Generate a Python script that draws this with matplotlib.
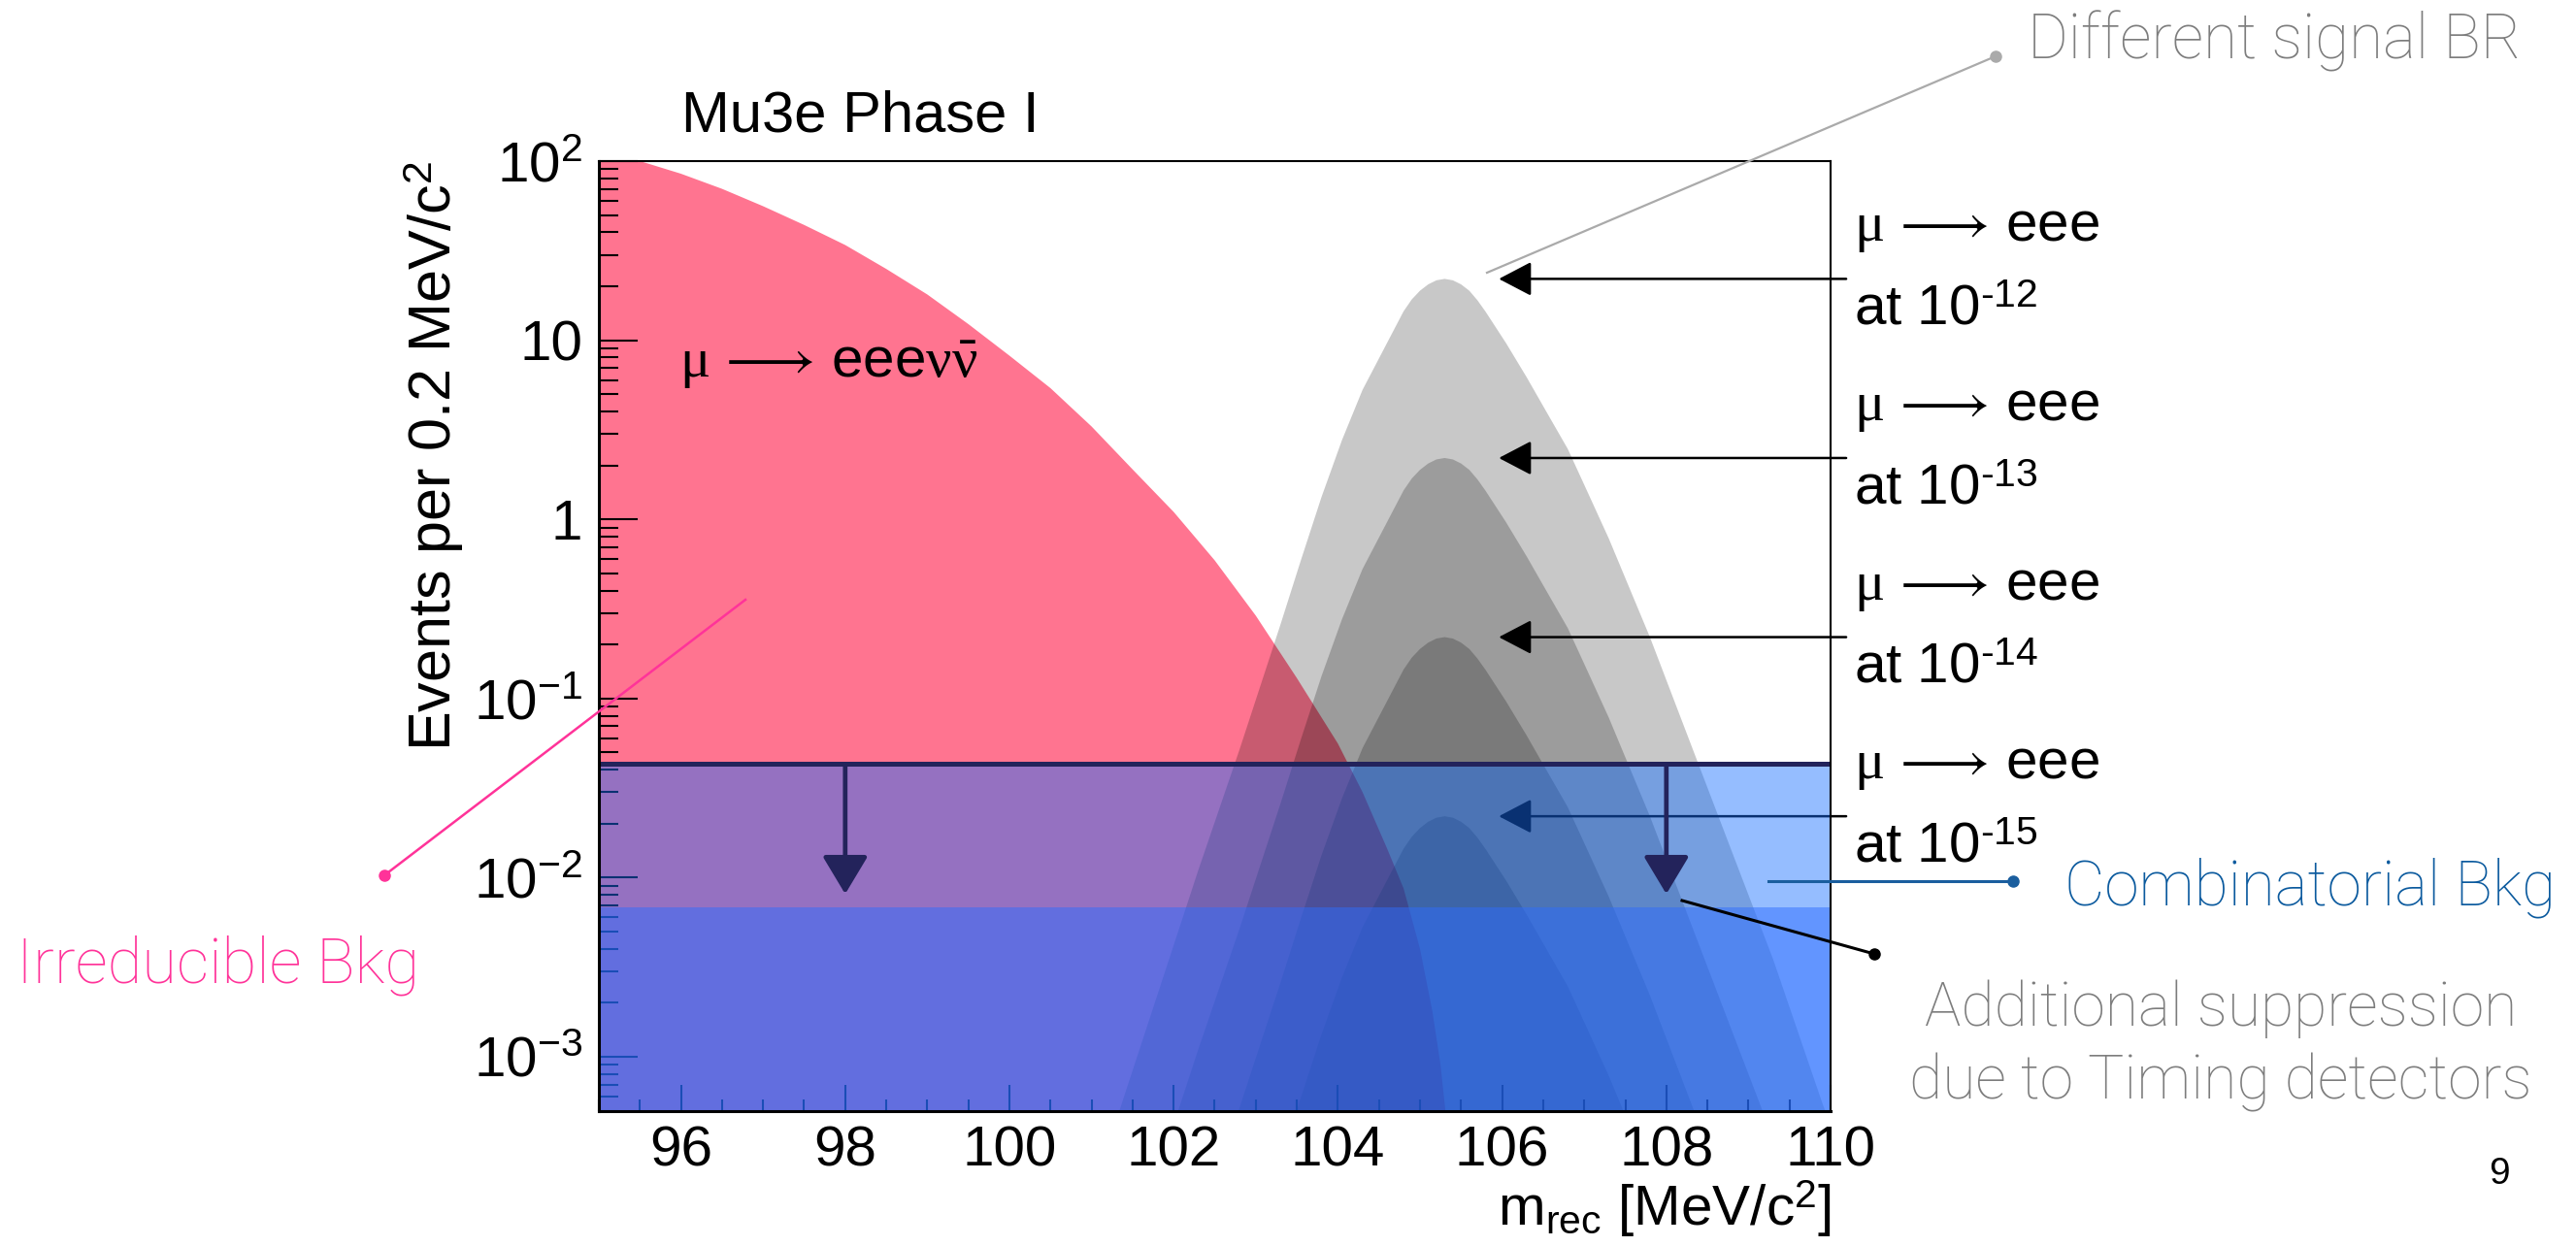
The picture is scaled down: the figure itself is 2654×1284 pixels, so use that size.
import matplotlib
matplotlib.use("Agg")
import matplotlib.pyplot as plt
from matplotlib.lines import Line2D
from matplotlib.ticker import LogLocator, MultipleLocator, NullFormatter

# Irreducible background mu -> eee nu nubar, events per 0.2 MeV/c^2
irreducible_mass = [95.0, 95.5, 96.0, 96.5, 97.0, 97.5, 98.0, 98.5, 99.0, 99.5,
                    100.0, 100.5, 101.0, 101.5, 102.0, 102.5, 103.0, 103.5, 104.0,
                    104.3, 104.6, 104.8, 105.0, 105.15, 105.25, 105.32, 105.4]
irreducible_events = [100, 100, 85, 70, 56, 44, 34, 25, 18, 12.3,
                      8.2, 5.4, 3.3, 1.9, 1.1, 0.59, 0.29, 0.13, 0.056,
                      0.030, 0.0145, 0.0087, 0.004, 0.0018, 0.0009, 0.00045, 0.00006]

# Signal mu -> eee for four branching ratios
signal_mass = [100.8, 101.3, 101.8, 102.3, 102.8, 103.3, 103.55, 103.8, 104.05, 104.3,
               104.55, 104.8, 104.9, 105.0, 105.1, 105.2, 105.3, 105.4, 105.5, 105.6,
               105.7, 105.8, 106.05, 106.3, 106.55, 106.8, 107.05, 107.3, 107.8, 108.3,
               108.8, 109.3, 109.9, 110.3]
signal_br12 = [8.75e-5, 4.4e-4, 2.2e-3, 0.011, 0.0515, 0.258, 0.592, 1.33, 2.77, 5.28,
               8.75, 14.5, 16.9, 18.9, 20.5, 21.6, 22.0, 21.6, 20.5, 18.9,
               16.7, 14.4, 9.6, 6.2, 3.91, 2.47, 1.39, 0.78, 0.22, 0.0553,
               0.0139, 0.0035, 5.5e-4, 1.75e-4]
signal_br13 = [8.75e-6, 4.4e-5, 2.2e-4, 1.1e-3, 5.15e-3, 0.0258, 0.0592, 0.133, 0.277, 0.528,
               0.875, 1.45, 1.69, 1.89, 2.05, 2.16, 2.2, 2.16, 2.05, 1.89,
               1.67, 1.44, 0.96, 0.62, 0.391, 0.247, 0.139, 0.078, 0.022, 5.53e-3,
               1.39e-3, 3.5e-4, 5.5e-5, 1.75e-5]
signal_br14 = [8.75e-7, 4.4e-6, 2.2e-5, 1.1e-4, 5.15e-4, 2.58e-3, 5.92e-3, 0.0133, 0.0277, 0.0528,
               0.0875, 0.145, 0.169, 0.189, 0.205, 0.216, 0.22, 0.216, 0.205, 0.189,
               0.167, 0.144, 0.096, 0.062, 0.0391, 0.0247, 0.0139, 7.8e-3, 2.2e-3, 5.53e-4,
               1.39e-4, 3.5e-5, 5.5e-6, 1.75e-6]
signal_br15 = [8.75e-8, 4.4e-7, 2.2e-6, 1.1e-5, 5.15e-5, 2.58e-4, 5.92e-4, 1.33e-3, 2.77e-3, 5.28e-3,
               8.75e-3, 0.0145, 0.0169, 0.0189, 0.0205, 0.0216, 0.022, 0.0216, 0.0205, 0.0189,
               0.0167, 0.0144, 9.6e-3, 6.2e-3, 3.91e-3, 2.47e-3, 1.39e-3, 7.8e-4, 2.2e-4, 5.53e-5,
               1.39e-5, 3.5e-6, 5.5e-7, 1.75e-7]
signal_exponents = ["12", "13", "14", "15"]
signal_arrow_mass = 105.96

# Combinatorial background level and the level after timing suppression
combinatorial_level = 0.043
suppressed_level = 0.0068
suppression_tip = 0.0081
suppression_arrow_mass = [98, 108]

x_ticks = [96, 98, 100, 102, 104, 106, 108, 110]
y_ticks = [1e-3, 1e-2, 1e-1, 1, 10, 100]
y_tick_labels = [r"$\mathregular{10^{-3}}$", r"$\mathregular{10^{-2}}$",
                 r"$\mathregular{10^{-1}}$", "1", "10", r"$\mathregular{10^{2}}$"]

W, H = 2654, 1284
PINK = "#FF7490"
BLUE = "#146EFF"
BLUE2 = "#2D6CFF"
NAVY = "#23235B"
NOTE_GREY = "#7D7D7D"
NOTE_FONT = "Roboto"

plt.rcParams["font.family"] = "Liberation Sans"
plt.rcParams["mathtext.fontset"] = "custom"
plt.rcParams["mathtext.rm"] = "Liberation Sans"
plt.rcParams["mathtext.it"] = "Liberation Serif"
plt.rcParams["mathtext.bf"] = "Liberation Sans:bold"
plt.rcParams["mathtext.fallback"] = "stix"


def fx(px):
    return px / W


def fy(py):
    return 1 - py / H


fig = plt.figure(figsize=(W / 100, H / 100), dpi=100)
ax = fig.add_axes([fx(617), fy(1144.5), fx(1886) - fx(617), fy(166) - fy(1144.5)])
ax.set_yscale("log")
ax.set_xlim(95, 110)
ax.set_ylim(5e-4, 100)

ax.fill_between(irreducible_mass, irreducible_events, 1e-9, color=PINK, lw=0, zorder=1.5)
signals = [signal_br12, signal_br13, signal_br14, signal_br15]
for ys in signals:
    ax.fill_between(signal_mass, ys, 1e-9, color="black", alpha=0.215, lw=0, zorder=2)

# arrows pointing at the signal peaks, with their labels
for ys, expo in zip(signals, signal_exponents):
    peak = max(ys)
    ax.annotate("", xy=(signal_arrow_mass, peak), xytext=(110.19, peak),
                arrowprops=dict(arrowstyle="-|>,head_length=1.05,head_width=0.55",
                                mutation_scale=20, color="black", lw=1.8,
                                shrinkA=0, shrinkB=0),
                annotation_clip=False, zorder=2.8)
    ax.annotate(r"$\mu\,\longrightarrow\,$eee", xy=(110.28, peak), xytext=(0, 28),
                textcoords="offset points", fontsize=42, va="baseline",
                annotation_clip=False)
    ax.annotate("at 10$^{\\mathregular{\u2010%s}}$" % expo, xy=(110.28, peak),
                xytext=(0, -34), textcoords="offset points", fontsize=42,
                va="baseline", annotation_clip=False)

# combinatorial background band
ax.axhspan(1e-9, combinatorial_level, color=BLUE, alpha=0.45, lw=0, zorder=3)
ax.axhspan(1e-9, suppressed_level, color=BLUE2, alpha=0.49, lw=0, zorder=3)
ax.axhline(combinatorial_level, color=NAVY, lw=3.6, zorder=4)
for m in suppression_arrow_mass:
    ax.annotate("", xy=(m, suppression_tip), xytext=(m, combinatorial_level),
                arrowprops=dict(arrowstyle="-|>,head_length=1.2,head_width=0.72",
                                mutation_scale=20, color=NAVY, lw=3.4,
                                shrinkA=0, shrinkB=0),
                zorder=4)

ax.text(95.98, 6.2, r"$\mu\,\longrightarrow\,$eee$\nu\bar{\nu}$", fontsize=42,
        va="baseline", zorder=5)

# axes styling, ROOT-like
ax.set_xticks(x_ticks)
ax.xaxis.set_minor_locator(MultipleLocator(0.5))
ax.set_yticks(y_ticks)
ax.set_yticklabels(y_tick_labels)
ax.yaxis.set_minor_locator(LogLocator(base=10, subs=range(2, 10), numticks=100))
ax.yaxis.set_minor_formatter(NullFormatter())
ax.tick_params(axis="both", which="both", direction="in", top=False, right=False,
               width=1.5, labelsize=42)
ax.tick_params(axis="y", which="major", length=29, pad=12)
ax.tick_params(axis="y", which="minor", length=14.5)
ax.tick_params(axis="x", which="major", length=19.5, pad=11)
ax.tick_params(axis="x", which="minor", length=9)
for name, sp in ax.spines.items():
    sp.set_zorder(5)
    sp.set_linewidth(2.2 if name in ("left", "bottom") else 1.5)

fig.text(fx(702), fy(135), "Mu3e Phase I", fontsize=43, va="baseline")
fig.text(fx(447), fy(166), r"Events per 0.2 MeV/c$^{\mathregular{2}}$", fontsize=44,
         rotation=90, ha="center", va="top")
fig.text(fx(1887), fy(1263), r"$\mathregular{m_{rec}}$ [MeV/c$^{\mathregular{2}}$]",
         fontsize=42, ha="right", va="baseline")
fig.text(fx(2575), fy(1220), "9", fontsize=28, ha="center", va="baseline")


def leader(p0, p1, color, lw):
    fig.add_artist(Line2D([fx(p0[0]), fx(p1[0])], [fy(p0[1]), fy(p1[1])],
                          transform=fig.transFigure, color=color, lw=lw))
    fig.add_artist(Line2D([fx(p0[0])], [fy(p0[1])], transform=fig.transFigure,
                          marker="o", markersize=8, color=color, lw=0))


note = dict(family=NOTE_FONT, fontweight="light", va="baseline")
fig.text(fx(2089), fy(60), "Different signal BR", color=NOTE_GREY, fontsize=46, **note)
leader((2056, 58), (1532, 281), "#AAAAAA", 1.6)

fig.text(fx(17), fy(1012), "Irreducible Bkg", color="#FF3399", fontsize=47, **note)
leader((396, 902), (768, 618), "#FF3399", 1.8)

fig.text(fx(2127), fy(933), "Combinatorial Bkg", color="#0B5A9E", fontsize=46, **note)
leader((2074, 908), (1822, 908), "#1A5E9E", 2.2)

fig.text(fx(2288), fy(1057), "Additional suppression", color=NOTE_GREY, fontsize=45,
         ha="center", **note)
fig.text(fx(2288), fy(1133), "due to Timing detectors", color=NOTE_GREY, fontsize=45,
         ha="center", **note)
leader((1931, 983), (1733, 928), "black", 2.2)

fig.savefig("out.png", dpi=100)
